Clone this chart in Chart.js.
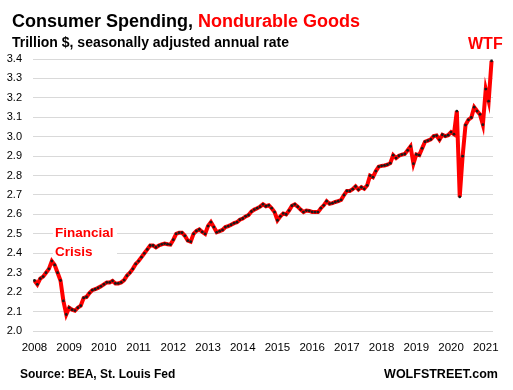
<!DOCTYPE html>
<html><head><meta charset="utf-8">
<script src="https://cdn.jsdelivr.net/npm/chart.js@4"></script>
<style>
body{margin:0;background:#fff;}
#wrap{position:relative;width:513px;height:390px;overflow:hidden;font-family:"Liberation Sans",Arial,sans-serif;font-weight:bold;}
canvas{position:absolute;left:0;top:0;}
.t{position:absolute;white-space:nowrap;line-height:1;}
</style></head>
<body><div id="wrap"><canvas id="c" width="513" height="390"></canvas>
<div class="t" style="left:12px;top:12px;font-size:18px;color:#000">Consumer Spending, <span style="color:#f00">Nondurable Goods</span></div>
<div class="t" style="left:12px;top:35px;font-size:14px;color:#000">Trillion $, seasonally adjusted annual rate</div>
<div class="t" style="left:468px;top:36px;font-size:16px;color:#f00">WTF</div>
<div class="t" style="left:53px;top:221px;width:64px;height:37px;background:#fff;"></div>
<div class="t" style="left:55px;top:224px;font-size:13.5px;line-height:18.7px;color:#f00">Financial<br>Crisis</div>
<div class="t" style="left:20px;top:368px;font-size:12px;color:#000">Source: BEA, St. Louis Fed</div>
<div class="t" style="right:15px;top:368px;font-size:12.5px;color:#000">WOLFSTREET.com</div>
</div>
<script>
const years = [2008,2009,2010,2011,2012,2013,2014,2015,2016,2017,2018,2019,2020,2021];
const v2008 = [2.26,2.24,2.27,2.28,2.30,2.32,2.36,2.34,2.30,2.26,2.155,2.085];
const v2009 = [2.12,2.11,2.105,2.12,2.13,2.17,2.175,2.195,2.21,2.215,2.222,2.23];
const v2010 = [2.24,2.25,2.25,2.258,2.245,2.245,2.25,2.262,2.285,2.30,2.32,2.345];
const v2011 = [2.36,2.38,2.40,2.42,2.44,2.44,2.43,2.44,2.446,2.45,2.447,2.445];
const v2012 = [2.47,2.50,2.506,2.506,2.49,2.465,2.46,2.50,2.515,2.523,2.51,2.50];
const v2013 = [2.54,2.56,2.535,2.508,2.514,2.52,2.535,2.54,2.547,2.555,2.56,2.573];
const v2014 = [2.579,2.59,2.597,2.615,2.625,2.632,2.64,2.652,2.642,2.647,2.632,2.612];
const v2015 = [2.57,2.59,2.605,2.60,2.62,2.645,2.652,2.64,2.625,2.612,2.62,2.618];
const v2016 = [2.613,2.612,2.612,2.632,2.647,2.668,2.655,2.658,2.664,2.668,2.675,2.70];
const v2017 = [2.721,2.721,2.73,2.744,2.728,2.74,2.732,2.75,2.80,2.792,2.823,2.846];
const v2018 = [2.85,2.852,2.856,2.864,2.905,2.89,2.902,2.908,2.911,2.93,2.95,2.861];
const v2019 = [2.909,2.905,2.94,2.974,2.98,2.986,3.003,3.006,2.984,3.01,3.003,3.008];
const v2020 = [3.024,3.013,3.132,2.69,2.90,3.06,3.087,3.099,3.152,3.132,3.115,3.062];
const v2021 = [3.245,3.183,3.39];
const yearValues = [v2008,v2009,v2010,v2011,v2012,v2013,v2014,v2015,v2016,v2017,v2018,v2019,v2020,v2021];

const labels = [];
const values = [];
yearValues.forEach((arr, yi) => {
  arr.forEach((v, mi) => {
    labels.push(years[yi] + '-' + String(mi + 1).padStart(2, '0'));
    values.push(v);
  });
});

const tickFont = {family: '"Liberation Sans", Arial, sans-serif', size: 11};
new Chart(document.getElementById('c'), {
  type: 'line',
  data: {labels, datasets: [{
    data: values,
    borderColor: '#ff0000',
    borderWidth: 4,
    pointRadius: 1.4,
    pointBackgroundColor: '#1a1a1a',
    pointBorderWidth: 0,
    tension: 0
  }]},
  options: {
    responsive: false,
    animation: false,
    layout: {padding: {top: 59, right: 20, left: 0, bottom: 0}},
    plugins: {legend: {display: false}, tooltip: {enabled: false}},
    scales: {
      x: {
        type: 'category',
        offset: true,
        grid: {display: false, drawTicks: false},
        border: {display: false},
        ticks: {
          autoSkip: false, maxRotation: 0, minRotation: 0, padding: 10,
          color: '#000', font: {family: tickFont.family, size: 11.5},
          callback: (v, i) => (labels[i].endsWith('-01') ? labels[i].slice(0, 4) : null)
        },
        afterFit: s => { s.height = 59; }
      },
      y: {
        min: 2.0, max: 3.4,
        ticks: {stepSize: 0.1, padding: 11, color: '#000', font: tickFont,
          callback: v => Number(v).toFixed(1)},
        grid: {color: '#d9d9d9', drawTicks: false, lineWidth: 1},
        border: {display: false},
        afterFit: s => { s.width = 33; }
      }
    }
  }
});
</script>
</body></html>
